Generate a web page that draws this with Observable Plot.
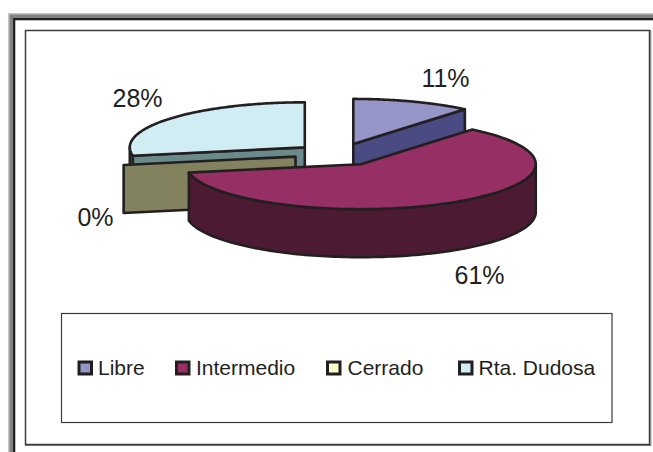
<!DOCTYPE html>
<html><head><meta charset="utf-8">
<script src="https://cdn.jsdelivr.net/npm/d3@7"></script>
<script src="https://cdn.jsdelivr.net/npm/@observablehq/plot@0.6"></script>
<style>html,body{margin:0;padding:0;background:#fff}svg{display:block}</style>
</head><body><div id="chart"></div>
<script>
const categories = ["Libre", "Intermedio", "Cerrado", "Rta. Dudosa"];
const values = [11, 61, 0, 28];
const topColors = ["#9595c8", "#962f63", "#ffffcc", "#cfedf3"];
const sideColors = ["#4b4b83", "#4c1a33", "#82825f", "#6a8a8c"];

// layout of the pie and of the surrounding boxes
const W = 653, H = 452, INK = "#231f20";
const pie = {cx: 338, cy: 154, rx: 175, ry: 45, depth: 48, explode: 0.25};
const labelAt = [[445, 78], [479, 275], [95, 217], [137, 98]];
const legendAt = [[79, 97.5], [176.5, 195.5], [327.5, 347], [459.5, 478]];

const total = d3.sum(values);
let acc = 0;
const slices = categories.map((name, i) => {
  const a0 = acc / total * 2 * Math.PI; acc += values[i];
  const a1 = acc / total * 2 * Math.PI, mid = (a0 + a1) / 2;
  return {name, value: values[i], a0, a1, top: topColors[i], side: sideColors[i],
    ax: pie.cx + pie.explode * pie.rx * Math.sin(mid),
    ay: pie.cy - pie.explode * pie.ry * Math.cos(mid)};
});
const rim = (s, a, dz = 0) => ({x: s.ax + pie.rx * Math.sin(a), y: s.ay - pie.ry * Math.cos(a) + dz});
const arc = (s, a0, a1, dz = 0) => a1 <= a0 ? [rim(s, a0, dz)] :
  d3.range(0, 121).map(k => rim(s, a0 + (a1 - a0) * k / 120, dz));
const apex = (s, dz = 0) => ({x: s.ax, y: s.ay + dz});
const poly = (pts, fill) => Plot.line(pts, {x: "x", y: "y", fill, stroke: INK, strokeWidth: 2.6,
  curve: "linear-closed", strokeLinejoin: "round"});

function sliceMarks(s) {
  const out = [];
  // outer wall: only the part that faces the viewer
  const w0 = Math.max(s.a0, Math.PI / 2), w1 = Math.min(s.a1, 3 * Math.PI / 2);
  if (w1 > w0) out.push(poly([...arc(s, w0, w1), ...arc(s, w0, w1, pie.depth).reverse()], s.side));
  // cut walls
  if (s.value === 0 || s.name === "Rta. Dudosa")
    out.push(poly([apex(s), rim(s, s.a0), rim(s, s.a0, pie.depth), apex(s, pie.depth)], s.side));
  if (s.name === "Libre")
    out.push(poly([apex(s), rim(s, s.a1), rim(s, s.a1, pie.depth), apex(s, pie.depth)], s.side));
  // top face
  if (s.value > 0) out.push(poly([apex(s), ...arc(s, s.a0, s.a1)], s.top));
  return out;
}
const order = [3, 2, 0, 1];

const boxes = [
  {x1: 8, x2: 13, y1: 13, y2: 452, f: "#808285"},
  {x1: 8, x2: 653, y1: 13, y2: 18, f: "#808285"},
  {x1: 8, x2: 653, y1: 13, y2: 14.5, f: "#c4c5c7"},
  {x1: 8, x2: 9.5, y1: 13, y2: 452, f: "#c4c5c7"},
  {x1: 13, x2: 15.3, y1: 18, y2: 452, f: INK},
  {x1: 13, x2: 653, y1: 18, y2: 20.3, f: INK},
  {x1: 649.5, x2: 651.5, y1: 30, y2: 446, f: "#a7a9ac"},
  {x1: 25, x2: 651, y1: 444.5, y2: 446, f: "#808285"}
];
const frames = [
  {x1: 25.5, x2: 649.5, y1: 30.5, y2: 444.5, w: 1.5},
  {x1: 61.5, x2: 612, y1: 313.5, y2: 422.5, w: 1.2}
];
const legend = categories.map((name, i) => ({name, sx: legendAt[i][0], tx: legendAt[i][1], c: topColors[i]}));
const LY = 368;

const plot = Plot.plot({
  width: W, height: H, margin: 0,
  x: {domain: [0, W], range: [0, W], axis: null},
  y: {domain: [0, H], range: [0, H], axis: null},
  marks: [
    Plot.rect(boxes, {x1: "x1", x2: "x2", y1: "y1", y2: "y2", fill: "f"}),
    Plot.rect(frames, {x1: "x1", x2: "x2", y1: "y1", y2: "y2", fill: "#fff", stroke: "#3c3c3e", strokeWidth: "w"}),
    ...order.flatMap(i => sliceMarks(slices[i])),
    Plot.text(slices, {x: (d, i) => labelAt[i][0], y: (d, i) => labelAt[i][1], text: d => d.value + "%",
      fontSize: 25, fill: INK, fontFamily: "Liberation Sans", textAnchor: "middle"}),
    Plot.rect(legend, {x1: "sx", x2: d => d.sx + 12.5, y1: LY - 6, y2: LY + 6, fill: "c", stroke: INK, strokeWidth: 3}),
    Plot.text(legend, {x: "tx", y: LY, text: "name", fontSize: 21, fill: INK, fontFamily: "Liberation Sans", textAnchor: "start"})
  ]
});
document.getElementById("chart").append(plot);
</script></body></html>
